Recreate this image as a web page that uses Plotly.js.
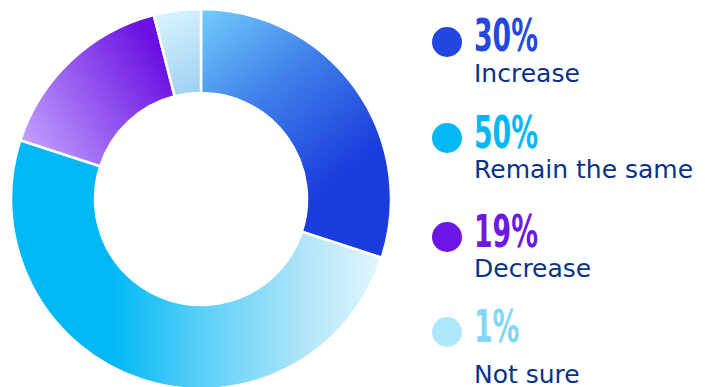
<!DOCTYPE html>
<html>
<head>
<meta charset="utf-8">
<script src="https://cdn.plot.ly/plotly-3.0.1.min.js"></script>
<style>
html, body { margin:0; padding:0; overflow:hidden; background:#fff; width:712px; height:387px; }
#chart { width:712px; height:398px; }
</style>
</head>
<body>
<svg width="0" height="0" style="position:absolute">
  <defs>
    <linearGradient id="g0" gradientUnits="userSpaceOnUse" x1="191" y1="9" x2="331" y2="184">
      <stop offset="0" stop-color="#76d2fc"/>
      <stop offset="0.5" stop-color="#3f80ea"/>
      <stop offset="1" stop-color="#1a3cdc"/>
    </linearGradient>
    <linearGradient id="g1" gradientUnits="userSpaceOnUse" x1="386" y1="199" x2="111" y2="199">
      <stop offset="0" stop-color="#e6f8fe"/>
      <stop offset="0.3" stop-color="#b0e5f9"/>
      <stop offset="0.66" stop-color="#5dd0f8"/>
      <stop offset="1" stop-color="#00b8f5"/>
    </linearGradient>
    <linearGradient id="g2" gradientUnits="userSpaceOnUse" x1="16" y1="144" x2="161" y2="54">
      <stop offset="0" stop-color="#c4a6ff"/>
      <stop offset="1" stop-color="#6a10e2"/>
    </linearGradient>
    <linearGradient id="g3" gradientUnits="userSpaceOnUse" x1="155" y1="13" x2="196" y2="95">
      <stop offset="0" stop-color="#dbf5fe"/>
      <stop offset="1" stop-color="#9dcff3"/>
    </linearGradient>
  </defs>
</svg>
<div id="chart"></div>
<script>
// ---- data ----
const categories = ['Increase', 'Remain the same', 'Decrease', 'Not sure'];
const sliceValues = [30, 50, 16, 4];          // slice sizes as drawn
const percentLabels = ['30%', '50%', '19%', '1%'];
// ---- styles ----
const sliceColors = ['#2a55e2', '#3cc6f6', '#8a3ff0', '#b6e2f8'];
const dotColors = ['#2246e0', '#00b8f4', '#6d15e5', '#aee8fd'];
const pctColors = ['#2447df', '#00b9f4', '#6e18e6', '#80d6fb'];
const labelColor = '#0b3385';

const W = 712, H = 398;
const px = x => x / W;
const py = y => 1 - y / H;

const cx = 201, cy = 199, R = 190;

const trace = {
  type: 'pie',
  labels: categories,
  values: sliceValues,
  sort: false,
  direction: 'clockwise',
  rotation: 0,
  hole: 106 / 190,
  textinfo: 'none',
  hoverinfo: 'none',
  showlegend: false,
  marker: { colors: sliceColors, line: { color: '#ffffff', width: 2.5 } },
  domain: { x: [px(cx - R), px(cx + R)], y: [py(cy + R), py(cy - R)] }
};

const dotY = [42, 138, 237, 332];
const pctY = [35, 132, 231.5, 326.5];
const labY = [73.5, 170, 268, 374];

const shapes = [];
const annotations = [];
categories.forEach((c, i) => {
  shapes.push({
    type: 'circle', xref: 'paper', yref: 'paper',
    x0: px(447 - 15), x1: px(447 + 15), y0: py(dotY[i] + 15), y1: py(dotY[i] - 15),
    fillcolor: dotColors[i], line: { width: 0 }
  });
  annotations.push({
    xref: 'paper', yref: 'paper', x: px(472), y: py(pctY[i]),
    xanchor: 'left', yanchor: 'middle', showarrow: false,
    text: '<b>' + percentLabels[i] + '</b>',
    font: { family: 'DejaVu Sans Condensed, DejaVu Sans, sans-serif', size: 45, color: pctColors[i] }
  });
  annotations.push({
    xref: 'paper', yref: 'paper', x: px(472), y: py(labY[i]),
    xanchor: 'left', yanchor: 'middle', showarrow: false,
    text: c,
    font: { family: 'DejaVu Sans, sans-serif', size: 25, color: labelColor }
  });
});

const layout = {
  width: W, height: H,
  margin: { l: 0, r: 0, t: 0, b: 0 },
  paper_bgcolor: '#ffffff',
  plot_bgcolor: '#ffffff',
  showlegend: false,
  shapes: shapes,
  annotations: annotations
};

Plotly.newPlot('chart', [trace], layout, { staticPlot: true, displayModeBar: false }).then(() => {
  const paths = document.querySelectorAll('#chart .slice path.surface');
  paths.forEach((p, i) => { p.style.fill = 'url(#g' + i + ')'; });
  // condense the big percentage figures horizontally
  const texts = document.querySelectorAll('#chart .annotation-text');
  texts.forEach(t => {
    if (t.textContent.indexOf('%') >= 0) {
      const bb = t.getBBox();
      const x0 = bb.x;
      t.setAttribute('transform', 'translate(' + x0 + ',0) scale(0.66,1) translate(' + (-x0) + ',0)');
    }
  });
});
</script>
</body>
</html>
